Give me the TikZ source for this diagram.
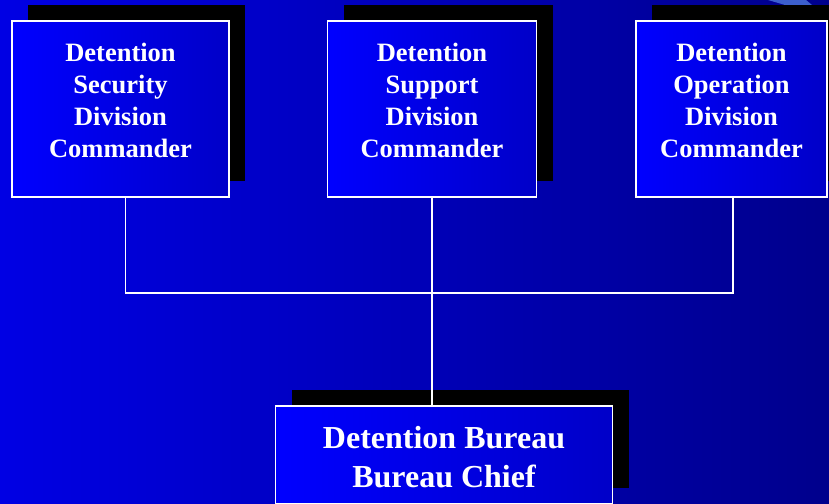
\documentclass[tikz,border=0pt]{standalone}
\usepackage{fontspec}
\setmainfont{Liberation Serif}
\usetikzlibrary{shadows}
\definecolor{bgleft}{RGB}{0,0,228}
\definecolor{bgright}{RGB}{0,0,140}
\definecolor{boxleft}{RGB}{0,0,255}
\definecolor{boxright}{RGB}{0,0,200}
\definecolor{streak}{RGB}{60,95,205}

\begin{document}
\begin{tikzpicture}[x=1pt, y=-1pt,
	divbox/.style = {draw=white, line width=1.4pt, left color=boxleft, right color=boxright,
		minimum width=#1, minimum height=176pt, inner sep=0pt,
		drop shadow={shadow xshift=16pt, shadow yshift=16pt, fill=black, opacity=1}},
	divtext/.style = {text=white, align=center, font=\bfseries\fontsize{26.5}{32}\selectfont},
	link/.style = {draw=white, line width=1.5pt}]
	\clip (0,0) rectangle (829,503);
	\shade [left color=bgleft, right color=bgright] (0,0) rectangle (829,503);
	\fill [streak] (768,0) -- (806,0) -- (812,5) -- (785,5) -- cycle;
	% division boxes
	\node [divbox=217pt] (secbox) at (120.5,109) {};
	\node [divbox=209pt] (supbox) at (432,109) {};
	\node [divbox=191pt] (oprbox) at (731.5,109) {};
	\node [divtext] (sectext) at ([yshift=9pt]secbox.center) {Detention\\Security\\Division\\Commander};
	\node [divtext] (suptext) at ([yshift=9pt]supbox.center) {Detention\\Support\\Division\\Commander};
	\node [divtext] (oprtext) at ([yshift=9pt]oprbox.center) {Detention\\Operation\\Division\\Commander};
	% bureau chief
	\node [divbox=337pt, minimum height=98pt] (chief) at (444,455) {};
	\node [divtext, font=\bfseries\fontsize{32}{39}\selectfont] (chieftext) at ([yshift=-2pt]chief.center) {Detention Bureau\\Bureau Chief};
	% connectors
	\coordinate (bus) at (432,293);
	\draw [link] ([xshift=5pt]secbox.south) |- (bus) -| ([xshift=1.5pt]oprbox.south);
	\draw [link] (supbox.south) -- (supbox.south |- chief.north);
\end{tikzpicture}
\end{document}
